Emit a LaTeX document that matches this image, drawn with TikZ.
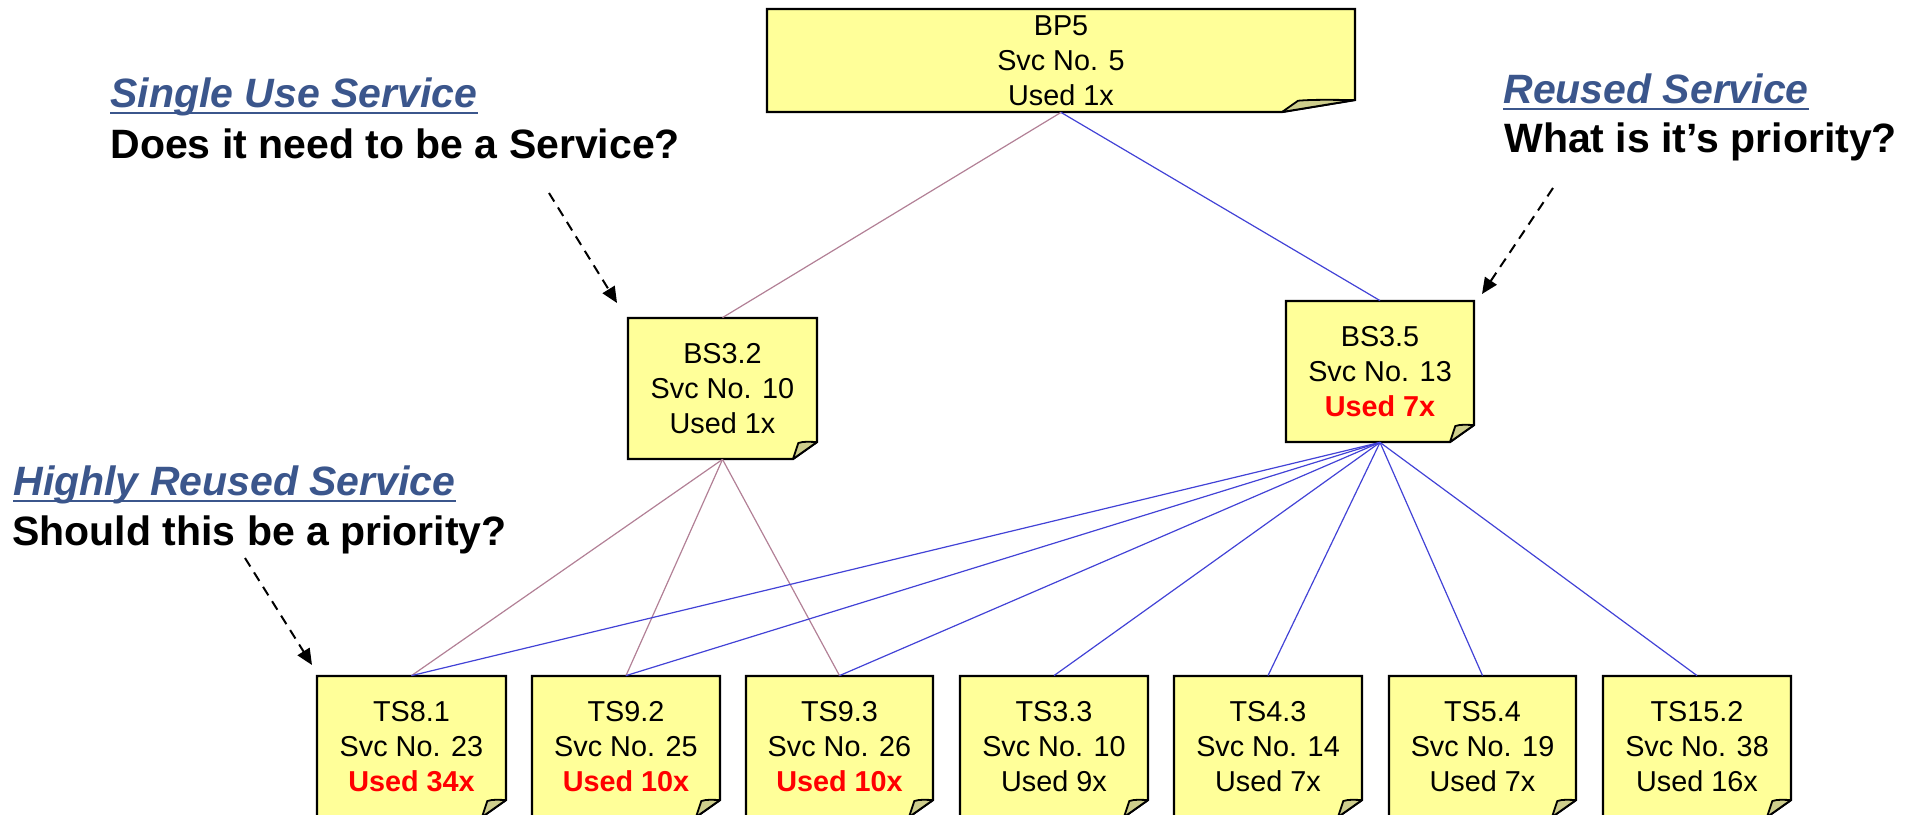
\documentclass[tikz,border=0pt]{standalone}
\usepackage{fontspec}
\setmainfont{Liberation Sans}
\usetikzlibrary{arrows.meta}

\definecolor{notefill}{RGB}{255,255,153}
\definecolor{flapfill}{RGB}{206,206,140}
\definecolor{mauvelink}{RGB}{178,128,150}
\definecolor{bluelink}{RGB}{66,66,214}
\definecolor{headblue}{RGB}{59,86,140}
\definecolor{hotred}{RGB}{255,0,0}

\tikzset{
  x=0.5pt, y=-0.5pt,
  noteedge/.style={draw=black, fill=notefill, line width=1.1pt, line join=miter},
  flapedge/.style={draw=black, fill=flapfill, line width=0.9pt, line join=round},
  notetext/.style={inner sep=0pt, align=center, text=black,
    font=\fontsize{14.4}{17.6}\selectfont},
  parentlink/.style={draw=mauvelink, line width=0.6pt},
  reuselink/.style={draw=bluelink, line width=0.6pt},
  headnote/.style={inner sep=0pt, anchor=base west, text=headblue,
    font=\fontsize{20.5}{24}\selectfont\bfseries\itshape},
  asknote/.style={inner sep=0pt, anchor=base west, text=black,
    font=\fontsize{20.5}{24}\selectfont\bfseries},
  headrule/.style={draw=headblue, line width=1pt},
  callout/.style={draw=black, line width=1pt, dash pattern=on 5pt off 3.5pt,
    -{Triangle[length=8pt,width=7pt]}},
}

% sticky note: name, left, top, right, bottom, fold x, fold y, text
\newcommand\stickynote[8]{%
  \path[noteedge] (#2,#3) -- (#4,#3) -- (#4,{#5-#7}) -- ({#4-#6},#5) -- (#2,#5) -- cycle;
  \path[flapedge] ({#4-#6},#5) -- ({#4-0.78*#6},{#5-0.94*#7})
    .. controls ({#4-0.55*#6},{#5-1.06*#7}) and ({#4-0.25*#6},{#5-#7}) .. (#4,{#5-#7}) -- cycle;
  \node[notetext, minimum width={(#4-#2)*0.5pt}, minimum height={(#5-#3)*0.5pt}]
    (#1) at ({(#2+#4)/2},{(#3+#5)/2}) {#8};
}
\newcommand\hotused[1]{{\color{hotred}\bfseries Used #1}}

\begin{document}
\begin{tikzpicture}
\useasboundingbox (0,0) rectangle (1915,814);
\clip (0,0) rectangle (1915,814);

% notes
\stickynote{bp5}{767}{9}{1355}{112}{73}{12}{BP5\\Svc No. 5\\Used 1x}
\stickynote{bs32}{628}{318}{817}{459}{24}{17}{BS3.2\\Svc No. 10\\Used 1x}
\stickynote{bs35}{1286}{301}{1474}{442}{24}{17}{BS3.5\\Svc No. 13\\\hotused{7x}}

\stickynote{ts81}{317}{676}{506}{817}{24}{17}{TS8.1\\Svc No. 23\\\hotused{34x}}
\stickynote{ts92}{532}{676}{720}{817}{24}{17}{TS9.2\\Svc No. 25\\\hotused{10x}}
\stickynote{ts93}{746}{676}{933}{817}{24}{17}{TS9.3\\Svc No. 26\\\hotused{10x}}
\stickynote{ts33}{960}{676}{1148}{817}{24}{17}{TS3.3\\Svc No. 10\\Used 9x}
\stickynote{ts43}{1174}{676}{1362}{817}{24}{17}{TS4.3\\Svc No. 14\\Used 7x}
\stickynote{ts54}{1389}{676}{1576}{817}{24}{17}{TS5.4\\Svc No. 19\\Used 7x}
\stickynote{ts152}{1603}{676}{1791}{817}{24}{17}{TS15.2\\Svc No. 38\\Used 16x}

% links from the business process
\draw[parentlink] (bp5.south) -- (bs32.north);
\draw[reuselink] (bp5.south) -- (bs35.north);

% links from BS3.2
\foreach \t in {ts81,ts92,ts93}
  \draw[parentlink] (bs32.south) -- (\t.north);

% links from BS3.5
\foreach \t in {ts81,ts92,ts93,ts33,ts43,ts54,ts152}
  \draw[reuselink] (bs35.south) -- (\t.north);

% annotations
\node[headnote] (hsingle) at (110,107) {Single Use Service};
\draw[headrule] ([yshift=-3pt]hsingle.base west) -- ([yshift=-3pt]hsingle.base east);
\node[asknote] (qsingle) at (110,158) {Does it need to be a Service?};

\node[headnote] (hreused) at (1503,103) {Reused Service};
\draw[headrule] ([yshift=-3pt]hreused.base west) -- ([yshift=-3pt]hreused.base east);
\node[asknote] (qreused) at (1504,152) {What is it’s priority?};

\node[headnote] (hhigh) at (13,495) {Highly Reused Service};
\draw[headrule] ([yshift=-3pt]hhigh.base west) -- ([yshift=-3pt]hhigh.base east);
\node[asknote] (qhigh) at (12,545) {Should this be a priority?};

% callout arrows
\coordinate (sfrom) at (549,193);
\coordinate (sto) at (617,303);
\coordinate (rfrom) at (1553,188);
\coordinate (rto) at (1482,294);
\coordinate (hfrom) at (245,558);
\coordinate (hto) at (312,665);
\draw[callout] (sfrom) -- (sto);
\draw[callout] (rfrom) -- (rto);
\draw[callout] (hfrom) -- (hto);
\end{tikzpicture}
\end{document}
